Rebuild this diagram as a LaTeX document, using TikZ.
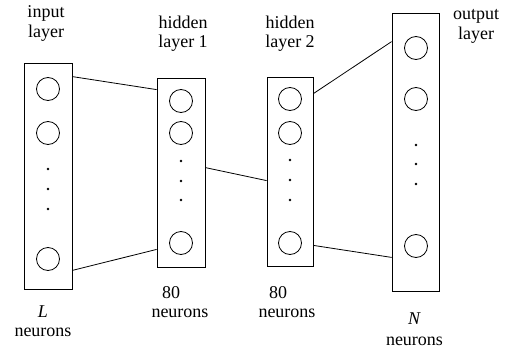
\documentclass[tikz,border=0pt]{standalone}
\usepackage{fontspec}
\setmainfont{Liberation Serif}
\usetikzlibrary{calc}

\begin{document}
\begin{tikzpicture}[
 x=1pt,y=-1pt,
 lay/.style={draw,line width=0.8pt,inner sep=0pt,minimum width=48pt},
 neu/.style={draw,circle,line width=0.8pt,inner sep=0pt,minimum size=23pt},
 dt/.style={fill,circle,inner sep=0pt,minimum size=2.8pt},
 t/.style={align=center,font=\fontsize{18}{19.5}\selectfont},
 c/.style={line width=0.8pt}
]
\useasboundingbox (0,0) rectangle (507,351);
% layers
\node[lay,minimum height=226pt] (in) at (48,176) {};
\node[lay,minimum height=189pt] (h1) at (181,172.5) {};
\node[lay,minimum height=189pt,minimum width=46pt] (h2) at (290,171.5) {};
\node[lay,minimum height=278pt,minimum width=47pt] (out) at (415.5,152) {};
% neurons
\node[neu] (in1) at (48,89) {};
\node[neu] (in2) at (48,133) {};
\node[neu] (in3) at (48,259) {};
\node[dt] (ind1) at (48,169) {};
\node[dt] (ind2) at (48,189) {};
\node[dt] (ind3) at (48,209) {};
\node[neu] (ha1) at (181,101) {};
\node[neu] (ha2) at (181,133) {};
\node[neu] (ha3) at (181,243) {};
\node[dt] (had1) at (181,161) {};
\node[dt] (had2) at (181,181) {};
\node[dt] (had3) at (181,200) {};
\node[neu] (hb1) at (290,99) {};
\node[neu] (hb2) at (290,133) {};
\node[neu] (hb3) at (290,243) {};
\node[dt] (hbd1) at (290,160) {};
\node[dt] (hbd2) at (290,180) {};
\node[dt] (hbd3) at (290,200) {};
\node[neu] (o1) at (416,48) {};
\node[neu] (o2) at (416,99) {};
\node[neu] (o3) at (416,246) {};
\node[dt] (od1) at (416,145) {};
\node[dt] (od2) at (416,164) {};
\node[dt] (od3) at (416,184) {};
% labels
\node[t] (lin) at (46,23.5) {input\\layer};
\node[t] (lh1) at (183,33.5) {hidden\\layer 1};
\node[t] (lh2) at (290,33.5) {hidden\\layer 2};
\node[t] (lout) at (476,26.5) {output\\layer};
\node[t] (nin) at (43,321) {\textit{L}\\neurons};
\node[t] (nh1) at (180,302) {80\hspace*{18pt}\\neurons};
\node[t] (nh2) at (287,302) {80\hspace*{18pt}\\neurons};
\node[t,font=\fontsize{18}{21}\selectfont] (nout) at (414.5,329.5) {\textit{N}\\neurons};
% connections
\draw[c] ($(in.north east)+(0,14)$) -- ($(h1.north west)+(0,12)$);
\draw[c] ($(in.south east)+(0,-19)$) -- ($(h1.south west)+(0,-18)$);
\draw[c] ($(h1.north east)+(0,90)$) -- ($(h2.north west)+(0,104)$);
\draw[c] ($(h2.north east)+(0,17)$) -- ($(out.north west)+(0,29)$);
\draw[c] ($(h2.south east)+(0,-21)$) -- ($(out.south west)+(0,-34)$);
\end{tikzpicture}
\end{document}
